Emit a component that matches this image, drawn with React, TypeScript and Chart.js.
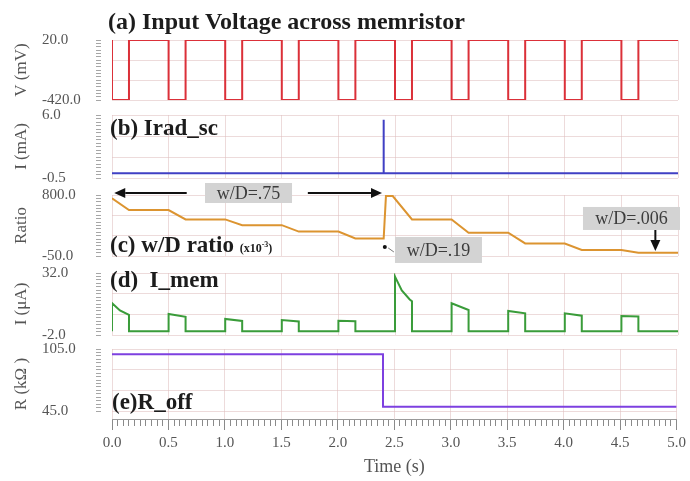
import React, { useEffect, useRef } from 'react';
import { Chart, registerables } from 'chart.js';

Chart.register(...registerables);

// ---------------- data ----------------
const xTickLabels = ['0.0', '0.5', '1.0', '1.5', '2.0', '2.5', '3.0', '3.5', '4.0', '4.5', '5.0'];

// (a) input voltage (mV)
const voltageTime = [
  0, 0, 0.15, 0.15, 0.5, 0.5, 0.65, 0.65, 1.0, 1.0, 1.15, 1.15, 1.5, 1.5, 1.65, 1.65,
  2.0, 2.0, 2.15, 2.15, 2.5, 2.5, 2.65, 2.65, 3.0, 3.0, 3.15, 3.15, 3.5, 3.5, 3.65, 3.65,
  4.0, 4.0, 4.15, 4.15, 4.5, 4.5, 4.65, 4.65, 5.0,
];
const voltageValue = [
  20, -420, -420, 20, 20, -420, -420, 20, 20, -420, -420, 20, 20, -420, -420, 20,
  20, -420, -420, 20, 20, -420, -420, 20, 20, -420, -420, 20, 20, -420, -420, 20,
  20, -420, -420, 20, 20, -420, -420, 20, 20,
];
const voltageTickLabels = ['-420.0', '20.0'];

// (b) Irad_sc (mA)
const iradTime = [0, 2.4, 2.4, 2.4, 5.0];
const iradValue = [0, 0, 5.5, 0, 0];
const iradTickLabels = ['-0.5', '6.0'];

// (c) w/D ratio (x10^-3)
const ratioTime = [0, 0.15, 0.5, 0.65, 1.0, 1.15, 1.5, 1.65, 2.0, 2.15, 2.4, 2.42, 2.48, 2.65, 3.0, 3.15, 3.5, 3.65, 4.0, 4.15, 4.5, 4.65, 5.0];
const ratioValue = [755, 590, 590, 460, 460, 380, 380, 290, 290, 195, 195, 785, 785, 460, 460, 275, 275, 125, 125, 35, 35, -5, -5];
const ratioTickLabels = ['-50.0', '800.0'];

// (d) I_mem (uA)
const imemTime = [
  0, 0, 0.07, 0.15, 0.15, 0.5, 0.5, 0.65, 0.65, 1.0, 1.0, 1.15, 1.15, 1.5, 1.5, 1.65, 1.65,
  2.0, 2.0, 2.15, 2.15, 2.5, 2.5, 2.56, 2.63, 2.65, 2.65, 3.0, 3.0, 3.15, 3.15,
  3.5, 3.5, 3.65, 3.65, 4.0, 4.0, 4.15, 4.15, 4.5, 4.5, 4.65, 4.65, 5.0,
];
const imemValue = [
  0, 15.5, 11.5, 9.0, 0, 0, 9.5, 8.0, 0, 0, 6.8, 5.7, 0, 0, 6.2, 5.4, 0,
  0, 5.8, 5.6, 0, 0, 30.0, 22.5, 17.5, 16.5, 0, 0, 15.4, 11.7, 0,
  0, 11.2, 9.9, 0, 0, 9.9, 8.6, 0, 0, 8.4, 8.2, 0, 0,
];
const imemTickLabels = ['-2.0', '32.0'];

// (e) R_off (kOhm)
const roffTime = [0, 2.4, 2.4, 5.0];
const roffValue = [100, 100, 49, 49];
const roffTickLabels = ['45.0', '105.0'];

// annotations of panel (c), in (time, ratio) coordinates
const noteBoxes = [
  { text: 'w/D=.75', t: 1.206, r: 828 },
  { text: 'w/D=.19', t: 2.884, r: 34 },
  { text: 'w/D=.006', t: 4.589, r: 473 },
];
const noteArrows = [
  { from: [0.66, 828], to: [0.02, 828] },
  { from: [1.73, 828], to: [2.385, 828] },
  { from: [4.8, 313], to: [4.8, 20] },
];
const notePointer = { dot: [2.41, 76], from: [2.44, 62], to: [2.49, 6] };

// ---------------- styles ----------------
const SERIF = "'Liberation Serif', 'Times New Roman', serif";
const GRID = 'rgba(222, 190, 190, 0.55)';
const TICK_TEXT = '#555555';
const TITLE_TEXT = '#555555';
const noteBoxSizes = [[87, 20], [87, 26], [97, 23]];
const PLOT_LEFT = 112;
const PLOT_RIGHT_PAD = 12;
const LABEL_LEFT = 42;
const Y_TITLE_CENTER = 22;
const Y_TICK_LEN = 16;

const panels = [
  { top: 28, height: 84, padTop: 12, padBottom: 12, min: -420, max: 20, labels: voltageTickLabels, title: 'V (mV)', color: '#db3039', time: voltageTime, values: voltageValue },
  { top: 103, height: 87, padTop: 12, padBottom: 12, min: -0.5, max: 6, labels: iradTickLabels, title: 'I (mA)', color: '#4040c4', time: iradTime, values: iradValue },
  { top: 178, height: 92, padTop: 17, padBottom: 14, min: -50, max: 800, labels: ratioTickLabels, title: 'Ratio', color: '#dc9430', time: ratioTime, values: ratioValue, notes: true },
  { top: 261, height: 86, padTop: 12, padBottom: 12, min: -2, max: 32, labels: imemTickLabels, title: 'I (\u03bcA)', color: '#3a9c3a', time: imemTime, values: imemValue },
  { top: 337, height: 144, padTop: 12, padBottom: 0, min: 45, max: 105, labels: roffTickLabels, title: 'R (k\u03a9 )', color: '#7d40e0', time: roffTime, values: roffValue, bottom: true, axisGap: 8, axisHeight: 62 },
];

function drawArrow(ctx: CanvasRenderingContext2D, x1: number, y1: number, x2: number, y2: number) {
  const ang = Math.atan2(y2 - y1, x2 - x1);
  const hl = 11;
  const hw = 5;
  const bx = x2 - hl * Math.cos(ang);
  const by = y2 - hl * Math.sin(ang);
  ctx.beginPath();
  ctx.moveTo(x1, y1);
  ctx.lineTo(bx, by);
  ctx.stroke();
  ctx.beginPath();
  ctx.moveTo(x2, y2);
  ctx.lineTo(bx + hw * Math.sin(ang), by - hw * Math.cos(ang));
  ctx.lineTo(bx - hw * Math.sin(ang), by + hw * Math.cos(ang));
  ctx.closePath();
  ctx.fill();
}

const notesPlugin = {
  id: 'wdNotes',
  afterDatasetsDraw(chart: any) {
    const { ctx } = chart;
    const xs = chart.scales.x;
    const ys = chart.scales.y;
    const px = (t: number) => xs.getPixelForValue(t);
    const py = (r: number) => ys.getPixelForValue(r);
    ctx.save();
    ctx.strokeStyle = '#111';
    ctx.fillStyle = '#111';
    ctx.lineWidth = 2;
    noteArrows.forEach((a) => drawArrow(ctx, px(a.from[0]), py(a.from[1]), px(a.to[0]), py(a.to[1])));
    ctx.beginPath();
    ctx.arc(px(notePointer.dot[0]), py(notePointer.dot[1]), 2, 0, Math.PI * 2);
    ctx.fill();
    ctx.lineWidth = 1;
    ctx.strokeStyle = '#777';
    ctx.beginPath();
    ctx.moveTo(px(notePointer.from[0]), py(notePointer.from[1]));
    ctx.lineTo(px(notePointer.to[0]), py(notePointer.to[1]));
    ctx.stroke();
    ctx.font = `18px ${SERIF}`;
    ctx.textAlign = 'center';
    ctx.textBaseline = 'middle';
    noteBoxes.forEach((b, i) => {
      const [w, h] = noteBoxSizes[i];
      const cx = px(b.t);
      const cy = py(b.r);
      ctx.fillStyle = '#d3d3d3';
      ctx.fillRect(cx - w / 2, cy - h / 2, w, h);
      ctx.fillStyle = '#3c3c3c';
      ctx.fillText(b.text, cx, cy + 1);
    });
    ctx.restore();
  },
};

function yTicks(min: number, max: number) {
  const n = 18;
  const out: { value: number }[] = [];
  for (let i = 0; i <= n; i++) out.push({ value: min + ((max - min) * i) / n });
  return out;
}

function xTicks(step: number) {
  const out: { value: number }[] = [];
  const n = Math.round(5 / step);
  for (let i = 0; i <= n; i++) out.push({ value: (5 * i) / n });
  return out;
}

function buildConfig(p: any): any {
  const plotH = p.height - p.padTop - p.padBottom - (p.bottom ? p.axisHeight : 0) - (p.axisGap || 0);
  const yMin = p.bottom ? p.min - ((p.axisGap || 0) / plotH) * (p.max - p.min) : p.min;
  const tickFont = { family: SERIF, size: 15 };
  const titleFontSize = 17;
  const xScale: any = p.bottom
    ? {
        type: 'linear',
        min: 0,
        max: 5,
        afterBuildTicks: (s: any) => { s.ticks = xTicks(0.05); },
        afterFit: (s: any) => { s.height = p.axisHeight; },
        ticks: {
          autoSkip: false,
          maxRotation: 0,
          minRotation: 0,
          padding: 4,
          color: TICK_TEXT,
          font: tickFont,
          callback: (_v: any, i: number) => (i % 10 === 0 ? xTickLabels[i / 10] : ''),
        },
        grid: {
          color: (c: any) => (c.index % 10 === 0 ? GRID : 'rgba(0,0,0,0)'),
          tickLength: 11,
          tickColor: '#8a8a8a',
          tickBorderDash: (c: any) => (c.index % 10 === 0 ? [] : [6, 30]),
        },
        border: { display: true, color: '#9a9a9a' },
        title: { display: true, text: 'Time (s)', color: TITLE_TEXT, font: { family: SERIF, size: 18 }, padding: { top: 0, bottom: 3 } },
      }
    : {
        type: 'linear',
        min: 0,
        max: 5,
        afterBuildTicks: (s: any) => { s.ticks = xTicks(0.5); },
        afterFit: (s: any) => { s.height = 0; },
        ticks: { display: false },
        grid: { color: GRID, drawTicks: false },
        border: { display: false },
      };
  return {
    type: 'line',
    data: {
      datasets: [
        {
          data: p.time.map((t: number, i: number) => ({ x: t, y: p.values[i] })),
          borderColor: p.color,
          borderWidth: 2,
          pointRadius: 0,
          tension: 0,
          fill: false,
        },
      ],
    },
    options: {
      animation: false,
      responsive: false,
      maintainAspectRatio: false,
      layout: { padding: { left: LABEL_LEFT, right: PLOT_RIGHT_PAD, top: p.padTop, bottom: p.padBottom } },
      plugins: { legend: { display: false }, tooltip: { enabled: false } },
      scales: {
        x: xScale,
        y: {
          type: 'linear',
          min: yMin,
          max: p.max,
          afterBuildTicks: (s: any) => { s.ticks = yTicks(p.min, p.max); },
          afterFit: (s: any) => { s.width = PLOT_LEFT - LABEL_LEFT; },
          ticks: {
            autoSkip: false,
            crossAlign: 'far',
            padding: 0,
            color: TICK_TEXT,
            font: tickFont,
            callback: (_v: any, i: number, arr: any[]) => (i === 0 ? p.labels[0] : i === arr.length - 1 ? p.labels[1] : ''),
          },
          grid: {
            color: (c: any) => (c.index % 6 === 0 ? GRID : 'rgba(0,0,0,0)'),
            drawTicks: true,
            tickLength: Y_TICK_LEN,
            tickColor: '#a6a6a6',
            tickBorderDash: [5, 100],
          },
          border: { display: false },
          title: {
            display: true,
            text: p.title,
            color: TITLE_TEXT,
            font: { family: SERIF, size: titleFontSize },
            padding: { top: Y_TITLE_CENTER - LABEL_LEFT - (titleFontSize * 1.2) / 2, bottom: 0 },
          },
        },
      },
    },
    plugins: p.notes ? [notesPlugin] : [],
  };
}

const titleStyle: React.CSSProperties = {
  position: 'absolute',
  fontFamily: SERIF,
  fontWeight: 'bold',
  fontSize: 23,
  lineHeight: '23px',
  color: '#1c1c1c',
  whiteSpace: 'pre',
};

export default function App() {
  const canvasRefs = useRef<(HTMLCanvasElement | null)[]>([]);

  useEffect(() => {
    const charts = panels.map((p, i) => new Chart(canvasRefs.current[i] as HTMLCanvasElement, buildConfig(p)));
    return () => {
      charts.forEach((c) => c.destroy());
    };
  }, []);

  return (
    <div style={{ position: 'absolute', left: 0, top: 0, width: 690, height: 481, background: '#ffffff', overflow: 'hidden' }}>
      {panels.map((p, i) => (
        <canvas
          key={i}
          ref={(el) => { canvasRefs.current[i] = el; }}
          width={690}
          height={p.height}
          style={{ position: 'absolute', left: 0, top: p.top, width: 690, height: p.height }}
        />
      ))}
      <div style={{ ...titleStyle, left: 108, top: 9, fontSize: 24, lineHeight: '24px' }}>(a) Input Voltage across memristor</div>
      <div style={{ ...titleStyle, left: 110, top: 116 }}>(b) Irad_sc</div>
      <div style={{ ...titleStyle, left: 110, top: 233 }}>
        (c) w/D ratio <span style={{ fontSize: 12 }}>(x10<sup style={{ fontSize: 8 }}>-3</sup>)</span>
      </div>
      <div style={{ ...titleStyle, left: 110, top: 268 }}>(d)  I_mem</div>
      <div style={{ ...titleStyle, left: 112, top: 390 }}>(e)R_off</div>
    </div>
  );
}
